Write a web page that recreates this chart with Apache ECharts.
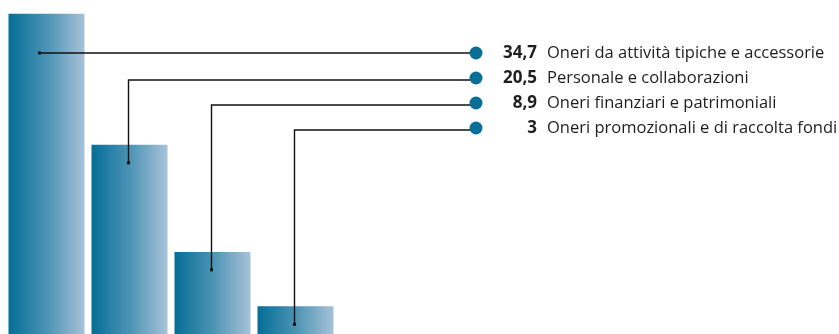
<!DOCTYPE html>
<html>
<head>
<meta charset="utf-8">
<script src="https://cdn.jsdelivr.net/npm/echarts@6/dist/echarts.min.js"></script>
<style>
  html, body { margin: 0; padding: 0; background: #fff; }
  #main { width: 839px; height: 334px; }
</style>
</head>
<body>
<div id="main"></div>
<script>
// dati
var categories = ['Oneri da attività tipiche e accessorie', 'Personale e collaborazioni', 'Oneri finanziari e patrimoniali', 'Oneri promozionali e di raccolta fondi'];
var values = [34.7, 20.5, 8.9, 3];
var valueLabels = ['34,7', '20,5', '8,9', '3'];

var myChart = echarts.init(document.getElementById('main'));

var rowY0 = 53, rowStep = 25, legendX = 476;

function renderLink(params, api) {
  var i = params.dataIndex;
  var top = api.coord([i, api.value(1)]);
  var rowY = rowY0 + rowStep * i;
  var ax, ay, pts;
  if (i === 0) {
    ax = top[0] - 7; ay = rowY;
    pts = [[ax, ay], [legendX, rowY]];
  } else {
    ax = top[0] - 1; ay = top[1] + 18;
    pts = [[ax, ay], [ax, rowY + 2], [legendX, rowY + 2]];
  }
  return {
    type: 'group',
    children: [
      { type: 'polyline', shape: { points: pts }, style: { stroke: '#111', lineWidth: 1.4, fill: null } },
      { type: 'rect', shape: { x: ax - 1.5, y: ay - 1.5, width: 3, height: 3 }, style: { fill: '#111' } },
      { type: 'circle', shape: { cx: legendX, cy: rowY, r: 6.5 }, style: { fill: '#0a6e96' } },
      { type: 'text', x: 537, y: rowY, style: { text: valueLabels[i], fill: '#1e1e1e', font: 'bold 17px "Open Sans"', align: 'right', verticalAlign: 'middle' } },
      { type: 'text', x: 547, y: rowY, style: { text: categories[i], fill: '#1e1e1e', font: '16.5px "Open Sans"', align: 'left', verticalAlign: 'middle' } }
    ]
  };
}

var option = {
  animation: false,
  grid: { left: 5, width: 332, top: 0, bottom: 0 },
  xAxis: { type: 'category', data: categories, show: false },
  yAxis: { type: 'value', min: 0, max: 36.2, show: false },
  series: [{
    type: 'bar',
    data: values,
    barWidth: 76,
    itemStyle: {
      color: new echarts.graphic.LinearGradient(0, 0, 1, 0, [
        { offset: 0, color: '#046e97' },
        { offset: 0.5, color: '#4b93b4' },
        { offset: 1, color: '#a7c2d8' }
      ])
    },
    silent: true
  }, {
    type: 'custom',
    renderItem: renderLink,
    data: values.map(function (v, i) { return [i, v]; }),
    clip: false,
    silent: true,
    z: 5
  }]
};

myChart.setOption(option);
</script>
</body>
</html>
